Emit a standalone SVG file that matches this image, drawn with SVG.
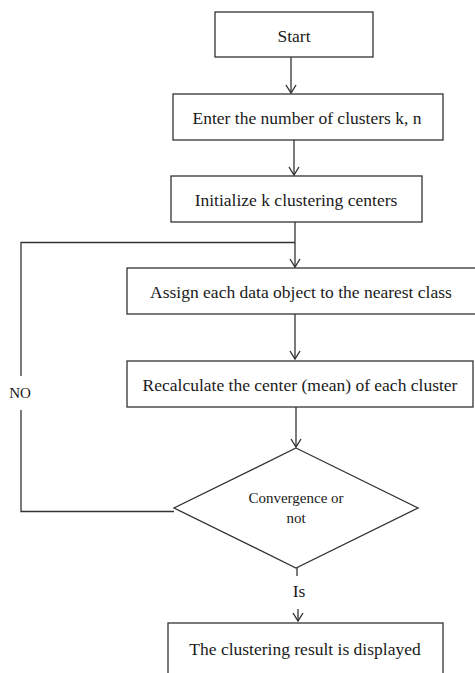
<svg xmlns="http://www.w3.org/2000/svg" width="475" height="673" viewBox="0 0 475 673">
<style>
.box{fill:#fff;stroke:#333;stroke-width:1.3}
.ln{fill:none;stroke:#333;stroke-width:1.3}
.t{font-family:"Liberation Serif","Times New Roman",serif;font-size:17.5px;fill:#1a1a1a;text-anchor:middle}
.s{font-size:15px}
</style>
<defs>
<marker id="arr" viewBox="0 0 10 12" refX="9" refY="6" markerWidth="10" markerHeight="12" markerUnits="userSpaceOnUse" orient="auto">
<path d="M1,1 L9,6 L1,11" fill="none" stroke="#333" stroke-width="1.4"/>
</marker>
</defs>
<rect width="475" height="673" fill="#fff"/>
<g id="connectors">
<line class="ln" x1="291" y1="57" x2="291" y2="93" marker-end="url(#arr)"/>
<line class="ln" x1="294" y1="140" x2="294" y2="175" marker-end="url(#arr)"/>
<line class="ln" x1="295" y1="222" x2="295" y2="267" marker-end="url(#arr)"/>
<line class="ln" x1="295" y1="314" x2="295" y2="359" marker-end="url(#arr)"/>
<line class="ln" x1="296" y1="407" x2="296" y2="447" marker-end="url(#arr)"/>
<polyline class="ln" points="174,511.5 21,511.5 21,410"/>
<polyline class="ln" points="21,376 21,242.5 295,242.5"/>
<text class="t s" x="20" y="398">NO</text>
<line class="ln" x1="297" y1="568" x2="297" y2="576"/>
<text class="t" x="299" y="597">Is</text>
<line class="ln" x1="298" y1="609" x2="298" y2="621" marker-end="url(#arr)"/>
</g>
<g id="start">
<rect class="box" x="215" y="12" width="158" height="45"/>
<text class="t" x="294" y="42">Start</text>
</g>
<g id="enter">
<rect class="box" x="173" y="94" width="270" height="46"/>
<text class="t" x="307" y="124">Enter the number of clusters k, n</text>
</g>
<g id="init">
<rect class="box" x="171" y="176" width="251" height="46"/>
<text class="t" x="296" y="206">Initialize k clustering centers</text>
</g>
<g id="assign">
<rect class="box" x="127" y="268" width="352" height="46"/>
<text class="t" x="301" y="298">Assign each data object to the nearest class</text>
</g>
<g id="recalc">
<rect class="box" x="127" y="361" width="346" height="46"/>
<text class="t" x="300" y="391">Recalculate the center (mean) of each cluster</text>
</g>
<g id="converge">
<polygon class="box" points="296,448 418,508 296,568 174,508"/>
<text class="t s" x="296" y="503">Convergence or</text>
<text class="t s" x="296" y="523">not</text>
</g>
<g id="display">
<rect class="box" x="168" y="623" width="275" height="60"/>
<text class="t" x="305" y="655">The clustering result is displayed</text>
</g>
</svg>
